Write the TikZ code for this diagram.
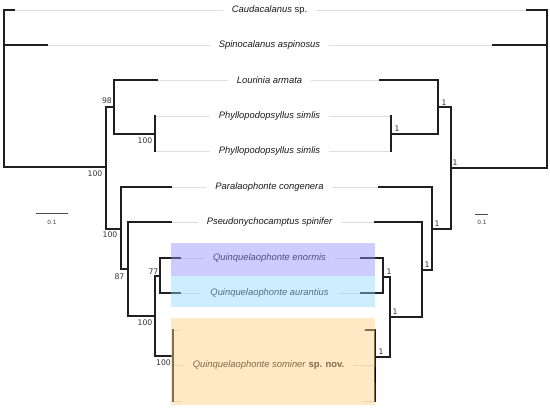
\documentclass[tikz,border=0pt]{standalone}
\usepackage{fontspec}
\setmainfont{Liberation Sans}
\newfontfamily\supfont{DejaVu Sans}
\usetikzlibrary{calc}
\definecolor{lavov}{RGB}{142,142,255}
\definecolor{cyaov}{RGB}{142,217,255}
\definecolor{oraov}{RGB}{255,206,124}
\begin{document}
\begin{tikzpicture}[x=1pt,y=-1pt,
  br/.style={line width=1.3pt, color=black!88, line cap=rect},
  leaf/.style={line width=0.8pt, color=black!13},
  taxon/.style={font=\fontsize{9.4}{11}\selectfont, inner xsep=9pt, inner ysep=1pt, text=black!90},
  supp/.style={font=\supfont\fontsize{7.7}{9}\selectfont, text=black!80, inner sep=0pt},
  scalebar/.style={line width=0.8pt, color=black!70},
  scalelab/.style={font=\supfont\fontsize{5.8}{7}\selectfont, text=black!75, inner sep=0pt},
  hl/.style={fill opacity=0.45, draw=none}]
\useasboundingbox (0,0) rectangle (550,409);

% ---------- tips ----------
\coordinate (tL1) at (14,10);   \coordinate (tR1) at (527,10);
\coordinate (tL2) at (47,45);   \coordinate (tR2) at (493,45);
\coordinate (tL3) at (157,80);  \coordinate (tR3) at (380,80);
\coordinate (tL4) at (155,116); \coordinate (tR4) at (391,116);
\coordinate (tL5) at (155,151); \coordinate (tR5) at (391,151);
\coordinate (tL6) at (171,187); \coordinate (tR6) at (379,187);
\coordinate (tL7) at (171,222); \coordinate (tR7) at (375,222);
\coordinate (tL8) at (180,258); \coordinate (tR8) at (361,258);
\coordinate (tL9) at (180,293); \coordinate (tR9) at (361,293);
\coordinate (tLa) at (173,330); \coordinate (tRa) at (366,330);
\coordinate (tLb) at (173,365); \coordinate (tRb) at (375,365);
\coordinate (tLc) at (173,401); \coordinate (tRc) at (375,401);
\coordinate (kLa) at (181,330); \coordinate (kRa) at (362,330);
\coordinate (kLc) at (181,401); \coordinate (kRc) at (362,401);

% ---------- taxon labels ----------
\node[taxon] (t1) at (269.5,10)  {\itshape Caudacalanus\upshape\ sp.};
\node[taxon] (t2) at (269.5,45)  {\itshape Spinocalanus aspinosus};
\node[taxon] (t3) at (269.5,80)  {\itshape Lourinia armata};
\node[taxon] (t4) at (269.5,116) {\itshape Phyllopodopsyllus simlis};
\node[taxon] (t5) at (269.5,151) {\itshape Phyllopodopsyllus simlis};
\node[taxon] (t6) at (269.5,187) {\itshape Paralaophonte congenera};
\node[taxon] (t7) at (269.5,222) {\itshape Pseudonychocamptus spinifer};
\node[taxon] (t8) at (269.5,258) {\itshape Quinquelaophonte enormis};
\node[taxon] (t9) at (269.5,293) {\itshape Quinquelaophonte aurantius};
\node[taxon] (tb) at (268.5,365) {\itshape Quinquelaophonte sominer\upshape\ \textbf{sp. nov.}};

% ---------- leaf guide lines ----------
\foreach \i in {1,...,9} {\draw[leaf] (tL\i) -- (t\i) -- (tR\i);}
\draw[leaf] (tLb) -- (tb) -- (tRb);
\draw[leaf] (tLa) -- (kLa);  \draw[leaf] (kRa) -- (tRa);
\draw[leaf] (tLc) -- (kLc);  \draw[leaf] (kRc) -- (tRc);

% ---------- left tree ----------
\coordinate (R)  at (4,10);
\coordinate (N1) at (106,167);
\coordinate (N2) at (114,107);
\coordinate (N3) at (155,134);
\coordinate (N4) at (121,229);
\coordinate (N5) at (128,269);
\coordinate (N6) at (155,316);
\coordinate (N7) at (160,276);
\coordinate (N8) at (173,356);
\draw[br] (R) |- (tL1);  \draw[br] (R) |- (tL2);  \draw[br] (R) |- (N1);
\draw[br] (N1) |- (N2);  \draw[br] (N1) |- (N4);
\draw[br] (N2) |- (tL3); \draw[br] (N2) |- (N3);
\draw[br] (N3) |- (tL4); \draw[br] (N3) |- (tL5);
\draw[br] (N4) |- (tL6); \draw[br] (N4) |- (N5);
\draw[br] (N5) |- (tL7); \draw[br] (N5) |- (N6);
\draw[br] (N6) |- (N7);  \draw[br] (N6) |- (N8);
\draw[br] (N7) |- (tL8); \draw[br] (N7) |- (tL9);
\draw[br] (N8) |- (tLa); \draw[br] (N8) |- (tLc);

% left support values
\node[supp] (s98)  at (107,101)   {98};
\node[supp] (s100a) at (145,141)  {100};
\node[supp] (s100b) at (95,174)   {100};
\node[supp] (s100c) at (110,235)  {100};
\node[supp] (s87)  at (119.5,277) {87};
\node[supp] (s100d) at (145,323)  {100};
\node[supp] (s77)  at (153.5,272) {77};
\node[supp] (s100e) at (163.5,363) {100};

% ---------- right tree ----------
\coordinate (RR) at (547,10);
\coordinate (M1) at (451,168);
\coordinate (M2) at (438,107);
\coordinate (M3) at (391,134);
\coordinate (M4) at (432,229);
\coordinate (M5) at (422,270);
\coordinate (M6) at (390,317);
\coordinate (M7) at (383,277);
\coordinate (M8) at (375,357);
\draw[br] (RR) |- (tR1); \draw[br] (RR) |- (tR2); \draw[br] (RR) |- (M1);
\draw[br] (M1) |- (M2);  \draw[br] (M1) |- (M4);
\draw[br] (M2) |- (tR3); \draw[br] (M2) |- (M3);
\draw[br] (M3) |- (tR4); \draw[br] (M3) |- (tR5);
\draw[br] (M4) |- (tR6); \draw[br] (M4) |- (M5);
\draw[br] (M5) |- (tR7); \draw[br] (M5) |- (M6);
\draw[br] (M6) |- (M7);  \draw[br] (M6) |- (M8);
\draw[br] (M7) |- (tR8); \draw[br] (M7) |- (tR9);
\draw[br] (M8) |- (tRa); \draw[br] (M8) |- (tRc);
\coordinate (q1) at (375,367); \coordinate (q2) at (375,383);
\draw[line width=2.4pt, color=black] (q1) -- (q2);

% right support values
\node[supp] (r1a) at (455,163) {1};
\node[supp] (r1b) at (444,103) {1};
\node[supp] (r1c) at (397,129) {1};
\node[supp] (r1d) at (437,224) {1};
\node[supp] (r1e) at (427,265) {1};
\node[supp] (r1f) at (395,312) {1};
\node[supp] (r1g) at (389,272) {1};
\node[supp] (r1h) at (381,352) {1};

% ---------- scale bars ----------
\coordinate (sa1) at (36,213); \coordinate (sa2) at (68,213);
\draw[scalebar] (sa1) -- (sa2);
\node[scalelab] (sal) at (52,222) {0.1};
\coordinate (sb1) at (475,214); \coordinate (sb2) at (488,214);
\draw[scalebar] (sb1) -- (sb2);
\node[scalelab] (sbl) at (482,222) {0.1};

% ---------- highlight boxes ----------
\fill[hl, fill=lavov] (171,243) rectangle (375,276);
\fill[hl, fill=cyaov] (171,276) rectangle (375,307);
\fill[hl, fill=oraov] (171,318) rectangle (375,405);
\end{tikzpicture}
\end{document}
